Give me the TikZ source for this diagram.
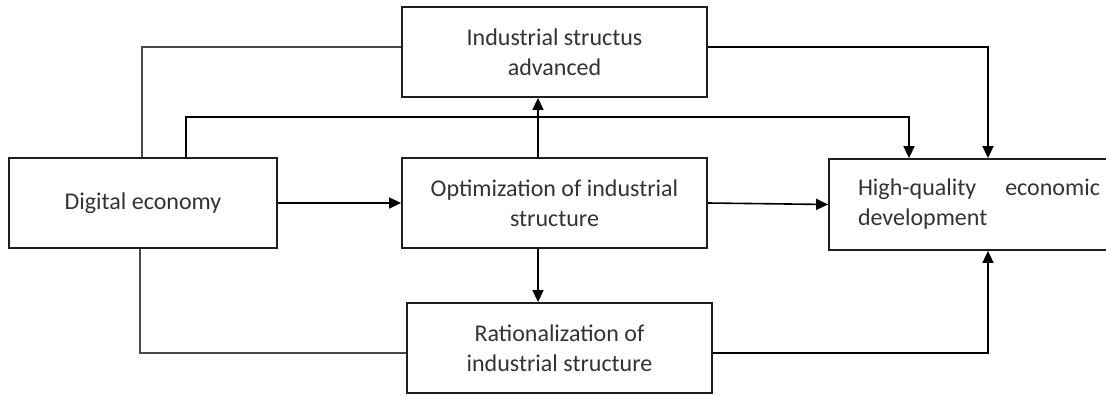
\documentclass[tikz,border=0pt]{standalone}
\usepackage{fontspec}
\setmainfont{Carlito}
\usetikzlibrary{arrows.meta}

\definecolor{boxline}{HTML}{1E1E1E}
\definecolor{wire}{HTML}{4A4A4A}
\definecolor{txt}{HTML}{333333}

\tikzset{
	block/.style={draw=boxline, line width=1.8pt, fill=white, minimum width=305pt, minimum height=90pt,
		inner sep=0pt, align=center, text=txt, font=\fontsize{24}{30}\selectfont},
	wire/.style={draw=wire, line width=1.4pt},
	arrowline/.style={draw=black, line width=1.6pt, -{Triangle[length=12pt,width=11pt]}}
}

\begin{document}
\begin{tikzpicture}[x=1pt,y=-1pt]
		\useasboundingbox (0,0) rectangle (1106,396);
		% boxes
		\node[block] (de) at (143,203) [minimum width=268pt] {Digital economy};
		\node[block] (top) at (554.5,52) {Industrial structus\\advanced};
		\node[block] (opt) at (554.5,203) {Optimization of industrial\\structure};
		\node[block] (rat) at (559.5,348) {Rationalization of\\industrial structure};
		\node[block] (hq) at (979,204.5) [minimum width=300pt, minimum height=91pt, align=left]
			{\makebox[242pt][l]{High-quality\hfill economic}\\development};
		% turning points
		\coordinate (k1) at (142,47);
		\coordinate (k2) at (186,117);
		\coordinate (k3) at (909,117);
		\coordinate (k4) at (988,47);
		\coordinate (k5) at (140,353);
		\coordinate (mid) at (538,0);
		% connectors
		\draw[wire] (de.north -| k1) |- (top.west |- k1);
		\draw[wire] (de.south -| k5) |- (rat.west |- k5);
		\draw[arrowline] (de.north -| k2) -- (k2) -- (k3) -- (hq.north -| k3);
		\draw[arrowline] (top.east |- k4) -- (k4) -- (hq.north -| k4);
		\draw[arrowline] (rat.east |- k5) -| (hq.south -| k4);
		\draw[arrowline] (de) -- (opt);
		\draw[arrowline] (opt.east) -- (hq.west);
		\draw[arrowline] (opt.north -| mid) -- (top.south -| mid);
		\draw[arrowline] (opt.south -| mid) -- (rat.north -| mid);
\end{tikzpicture}
\end{document}
